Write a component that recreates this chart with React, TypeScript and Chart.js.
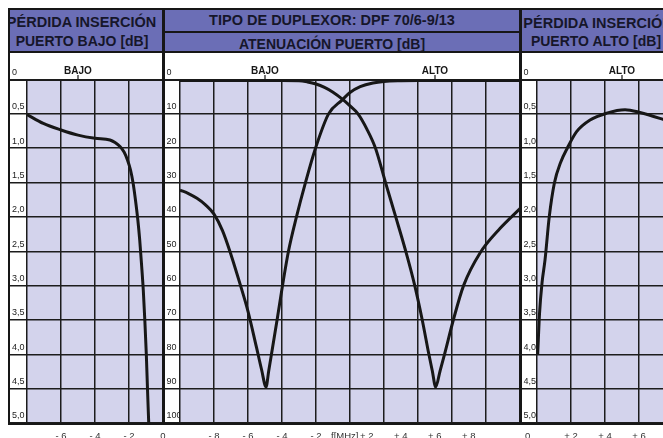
import React, { useEffect, useRef } from "react";
import { Chart, registerables } from "chart.js";

Chart.register(...registerables);

// ---------------- data ----------------
// Left panel: insertion loss, low port [dB] vs f [MHz]
const leftFreq = [-8, -7.04, -6, -5, -4, -3.12, -2.82, -2.53, -2.29, -2.09, -1.91, -1.76, -1.62, -1.48, -1.37, -1.26, -1.16, -1.07, -0.98, -0.91, -0.84];
const leftLoss = [0.51, 0.64, 0.735, 0.81, 0.856, 0.88, 0.917, 0.975, 1.055, 1.17, 1.317, 1.507, 1.754, 2.045, 2.336, 2.7, 3.064, 3.5, 4.01, 4.52, 5.0];

// Middle panel: port attenuation [dB]
const bajoFreq = [-10, -4, -3, -2.5, -2, -1.5, -1, -0.43, 0, 0.47, 1.0, 1.5, 2.09, 2.69, 3.28, 3.81, 4.25, 4.64, 4.84, 5.04, 5.3, 5.56, 6.09, 6.68, 7.65, 8.82, 10];
const bajoAtt = [0.3, 0.3, 0.35, 0.7, 1.3, 2.3, 3.7, 5.8, 7.7, 10, 14.5, 20, 30, 40, 50, 60, 70, 80, 84.8, 89.5, 84.8, 80, 69.8, 60, 50.5, 43.4, 37.6];

const altoFreq = [-10, -9.5, -9, -8.5, -8, -7.5, -7, -6.5, -6, -5.5, -5.2, -4.94, -4.78, -4.62, -4.29, -3.97, -3.62, -3.15, -2.62, -2.03, -1.26, -0.47, 0, 0.6, 1.35, 2, 3, 4, 10];
const altoAtt = [32.2, 33.2, 34.6, 36.5, 39.2, 44, 51, 59, 67.5, 78, 84.5, 89.5, 84.8, 80, 70, 60, 50, 40, 30, 20, 10, 6, 3.8, 2.1, 1.0, 0.55, 0.35, 0.3, 0.3];

// Right panel: insertion loss, high port [dB]
const rightFreq = [0.04, 0.15, 0.3, 0.47, 0.72, 1.02, 1.4, 1.78, 2.33, 3.12, 4.1, 5.18, 6.06, 7.41, 8];
const rightLoss = [4.0, 3.4, 2.95, 2.63, 2.0, 1.51, 1.2, 1.0, 0.76, 0.59, 0.49, 0.44, 0.48, 0.58, 0.63];

const headerLeft = ["PÉRDIDA INSERCIÓN", "PUERTO BAJO [dB]"];
const headerMid = ["TIPO DE DUPLEXOR: DPF 70/6-9/13", "ATENUACIÓN PUERTO [dB]"];
const headerRight = ["PÉRDIDA INSERCIÓN", "PUERTO ALTO [dB]"];
const channelNames = ["BAJO", "ALTO"];
const channelFreqs = [-5, 5];
const freqAxisTitle = "f[MHz]";

// ---------------- styling ----------------
const INK = "#171717";
const GRID = "#1c1c1c";
const LAVENDER = "#D3D3EC";
const BLUE = "#6B6EB6";
const FONT = "'Liberation Sans', Arial, Helvetica, sans-serif";
const H = 438;

const fmtLoss = (v: number) => (Math.abs(v) < 1e-9 ? "0" : v.toFixed(1).replace(".", ","));
const fmtAtt = (v: number) => String(Math.round(v));

type Series = { x: number[]; y: number[] };
type PanelSpec = {
  canvasLeft: number;
  canvasWidth: number;
  padLeft: number;
  axisWidth: number;
  tickLen: number;
  padRight: number;
  xMin: number;
  xMax: number;
  xStep: number;
  yMax: number;
  yStep: number;
  xHide: number[];
  xZero: string;
  // trailing blanks that nudge a centred label to the left (as printed)
  padZero: number;
  padPos: number;
  yFmt: (v: number) => string;
  series: Series[];
  bands: { name: string; at: number }[];
};

function fmtFreq(v: number, spec: PanelSpec) {
  const r = Math.round(v * 100) / 100;
  if (spec.xHide.some((h) => Math.abs(h - r) < 1e-9)) return "";
  if (Math.abs(r) < 1e-9) return spec.xZero + " ".repeat(spec.padZero);
  return r < 0 ? `- ${-r}` : `+ ${r}` + " ".repeat(spec.padPos);
}

function buildConfig(spec: PanelSpec): any {
  const decor = {
    id: "panelDecor",
    beforeDraw(chart: any) {
      const { ctx, chartArea: a } = chart;
      ctx.save();
      ctx.fillStyle = LAVENDER;
      ctx.fillRect(a.left, a.top, a.right - a.left, a.bottom - a.top);
      ctx.restore();
    },
    afterDraw(chart: any) {
      const { ctx, chartArea: a, scales } = chart;
      ctx.save();
      ctx.font = `bold 10px ${FONT}`;
      ctx.fillStyle = INK;
      ctx.strokeStyle = INK;
      ctx.textAlign = "center";
      ctx.textBaseline = "alphabetic";
      spec.bands.forEach((b) => {
        const x = scales.x.getPixelForValue(b.at);
        ctx.fillText(b.name, x, a.top - 6);
        ctx.lineWidth = 1.2;
        ctx.beginPath();
        ctx.moveTo(x, a.top - 4.5);
        ctx.lineTo(x, a.top);
        ctx.stroke();
      });
      ctx.restore();
    },
  };

  return {
    type: "line",
    data: {
      datasets: spec.series.map((s) => ({
        data: s.x.map((x, i) => ({ x, y: s.y[i] })),
        borderColor: INK,
        borderWidth: 3,
        pointRadius: 0,
        fill: false,
        cubicInterpolationMode: "monotone",
      })),
    },
    options: {
      animation: false,
      responsive: false,
      events: [],
      layout: { padding: { left: spec.padLeft, top: 79.5, right: spec.padRight, bottom: 0 } },
      plugins: { legend: { display: false }, tooltip: { enabled: false } },
      scales: {
        x: {
          type: "linear",
          position: "bottom",
          min: spec.xMin,
          max: spec.xMax,
          ticks: {
            stepSize: spec.xStep,
            autoSkip: false,
            maxRotation: 0,
            padding: 8,
            color: "#333",
            font: { family: FONT, size: 9.5 },
            callback: (v: number) => fmtFreq(v, spec),
          },
          grid: { color: GRID, lineWidth: 1.5, drawTicks: false },
          border: { display: false },
          afterFit: (s: any) => {
            s.height = 15;
            s.paddingLeft = 0;
            s.paddingRight = 0;
          },
        },
        y: {
          type: "linear",
          position: "left",
          reverse: true,
          min: 0,
          max: spec.yMax,
          ticks: {
            stepSize: spec.yStep,
            autoSkip: false,
            crossAlign: "far",
            labelOffset: -7,
            padding: 0,
            color: "#222",
            font: { family: FONT, size: 9 },
            callback: (v: number) => spec.yFmt(v),
          },
          grid: {
            color: GRID,
            lineWidth: (c: any) => (c.tick && Math.abs(c.tick.value) < 1e-9 ? 2 : 1.5),
            drawTicks: true,
            tickLength: spec.tickLen,
          },
          border: { display: false },
          afterFit: (s: any) => {
            s.width = spec.axisWidth;
            s.paddingTop = 0;
            s.paddingBottom = 0;
          },
        },
      },
    },
    plugins: [decor],
  };
}

function Panel({ spec }: { spec: PanelSpec }) {
  const ref = useRef<HTMLCanvasElement>(null);
  useEffect(() => {
    const chart = new Chart(ref.current as HTMLCanvasElement, buildConfig(spec));
    return () => chart.destroy();
  }, []);
  return (
    <canvas
      ref={ref}
      width={spec.canvasWidth}
      height={H}
      style={{ position: "absolute", left: spec.canvasLeft, top: 0, width: spec.canvasWidth, height: H }}
    />
  );
}

function HeaderText({ text, cx, cy, size }: { text: string; cx: number; cy: number; size: number }) {
  return (
    <div
      style={{
        position: "absolute",
        left: cx - 200,
        width: 400,
        top: cy - size * 0.56,
        lineHeight: `${Math.round(size * 1.14)}px`,
        textAlign: "center",
        whiteSpace: "nowrap",
        font: `bold ${size}px ${FONT}`,
        color: "#16162a",
      }}
    >
      {text}
    </div>
  );
}

export default function App() {
  const specs: PanelSpec[] = [
    {
      canvasLeft: 0, canvasWidth: 175, padLeft: 12, axisWidth: 15, tickLen: 17, padRight: 12,
      xMin: -8, xMax: 0, xStep: 2, yMax: 5, yStep: 0.5, xHide: [-8], xZero: "0", padZero: 0, padPos: 0, yFmt: fmtLoss,
      series: [{ x: leftFreq, y: leftLoss }],
      bands: [{ name: channelNames[0], at: channelFreqs[0] }],
    },
    {
      canvasLeft: 150, canvasWidth: 385, padLeft: 16.5, axisWidth: 13.5, tickLen: 15, padRight: 15,
      xMin: -10, xMax: 10, xStep: 2, yMax: 100, yStep: 10, xHide: [-10, 10], xZero: freqAxisTitle, padZero: 4, padPos: 13, yFmt: fmtAtt,
      series: [{ x: bajoFreq, y: bajoAtt }, { x: altoFreq, y: altoAtt }],
      bands: [
        { name: channelNames[0], at: channelFreqs[0] },
        { name: channelNames[1], at: channelFreqs[1] },
      ],
    },
    {
      canvasLeft: 505, canvasWidth: 180, padLeft: 18.5, axisWidth: 13.5, tickLen: 16, padRight: 12,
      xMin: 0, xMax: 8, xStep: 2, yMax: 5, yStep: 0.5, xHide: [], xZero: "0", padZero: 7, padPos: 0, yFmt: fmtLoss,
      series: [{ x: rightFreq, y: rightLoss }],
      bands: [{ name: channelNames[1], at: channelFreqs[1] }],
    },
  ];

  const lines: [number, number, number, number][] = [
    [8, 8, 655, 2],
    [8, 51, 655, 2],
    [163, 31, 357, 1.5],
    [8, 8, 2, 417],
    [162, 8, 3, 417],
    [518.5, 8, 3, 417],
    [8, 422.5, 655, 2],
  ];

  return (
    <div
      style={{
        position: "fixed",
        left: 0,
        top: 0,
        width: 663,
        height: H,
        overflow: "hidden",
        background: "#fff",
      }}
    >
      {/* header bands */}
      <div style={{ position: "absolute", left: 10, top: 10, width: 152, height: 41, background: BLUE, overflow: "hidden" }}>
        <HeaderText text={headerLeft[0]} cx={71.5} cy={12.3} size={14.5} />
        <HeaderText text={headerLeft[1]} cx={72} cy={30.8} size={14} />
      </div>
      <div style={{ position: "absolute", left: 165, top: 10, width: 353.5, height: 41, background: BLUE, overflow: "hidden" }}>
        <HeaderText text={headerMid[0]} cx={167} cy={10.5} size={14.5} />
        <HeaderText text={headerMid[1]} cx={167} cy={33.5} size={14} />
      </div>
      <div style={{ position: "absolute", left: 521.5, top: 10, width: 150, height: 41, background: BLUE, overflow: "hidden" }}>
        <HeaderText text={headerRight[0]} cx={76.5} cy={12.8} size={14.5} />
        <HeaderText text={headerRight[1]} cx={74.5} cy={30.8} size={14} />
      </div>

      {specs.map((s, i) => (
        <Panel key={i} spec={s} />
      ))}

      {lines.map(([x, y, w, h], i) => (
        <div key={i} style={{ position: "absolute", left: x, top: y, width: w, height: h, background: INK }} />
      ))}
    </div>
  );
}
